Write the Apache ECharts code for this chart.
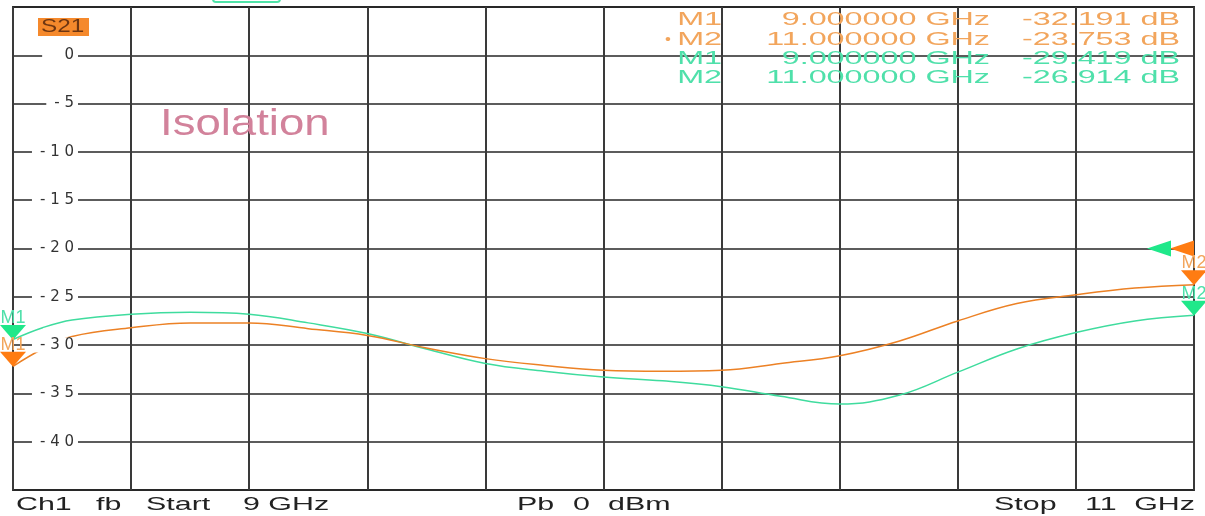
<!DOCTYPE html>
<html><head><meta charset="utf-8">
<script src="https://cdn.jsdelivr.net/npm/echarts@6/dist/echarts.min.js"></script>
<style>html,body{margin:0;padding:0;background:#fff}#c{width:1205px;height:516px}</style>
</head><body><div id="c"></div>
<script>
// Frequencies in GHz
const freqs = [9.0, 9.05, 9.1, 9.2, 9.3, 9.4, 9.5, 9.6, 9.7, 9.8, 9.9, 10.0, 10.1, 10.2, 10.3, 10.4, 10.5, 10.6, 10.7, 10.8, 10.9, 11.0];
// S21 trace 1 (orange), dB
const s21Orange = [-32.191, -30.4, -29.1, -28.2, -27.7, -27.7, -28.3, -29.0, -30.3, -31.4, -32.1, -32.6, -32.7, -32.6, -31.9, -31.1, -29.6, -27.5, -25.7, -24.8, -24.1, -23.753];
// S21 trace 2 (green), dB
const s21Green = [-29.419, -28.2, -27.4, -26.8, -26.6, -26.8, -27.7, -28.8, -30.4, -31.9, -32.7, -33.3, -33.7, -34.3, -35.3, -36.1, -35.2, -32.8, -30.4, -28.7, -27.5, -26.914];
const yTickLabels = ['0', '-5', '-10', '-15', '-20', '-25', '-30', '-35', '-40'];
const refLevel = -20;
const markerNames = ['M1', 'M2'];
const markerFreqText = ['9.000000 GHz', '11.000000 GHz'];

const ORANGE_LINE = '#ec8125', GREEN_LINE = '#3fdc9e';
const ORANGE_MK = '#ff7c12', GREEN_MK = '#1fe88a';
const ORANGE_TXT = '#f2a55c', GREEN_TXT = '#4fe0aa';
const FONT = "'Liberation Sans', Arial, sans-serif";

function spaced(s) { return s.split('').join(' '); }

const last = freqs.length - 1;
function markers(vals, mkColor, txtColor, refOffset) {
  return {
    symbol: 'triangle',
    symbolSize: [26, 15],
    symbolRotate: 180,
    symbolOffset: [0, -7],
    itemStyle: { color: mkColor },
    label: { show: true, position: 'top', distance: -2, formatter: '{b}', color: txtColor, fontSize: 18, fontFamily: FONT },
    data: [
      { name: markerNames[0], coord: [freqs[0], vals[0]] },
      { name: markerNames[1], coord: [freqs[last], vals[last]] },
      { name: 'ref', coord: [freqs[last], refLevel], symbolRotate: 90, symbolSize: [16, 24], symbolOffset: [refOffset, 0], label: { show: false } }
    ]
  };
}

function fmtVal(v) { return v.toFixed(3) + ' dB'; }

const rows = [
  { name: markerNames[0], f: markerFreqText[0], v: fmtVal(s21Orange[0]), c: ORANGE_TXT, y: 20, dot: false },
  { name: markerNames[1], f: markerFreqText[1], v: fmtVal(s21Orange[last]), c: ORANGE_TXT, y: 40, dot: true },
  { name: markerNames[0], f: markerFreqText[0], v: fmtVal(s21Green[0]), c: GREEN_TXT, y: 59, dot: false },
  { name: markerNames[1], f: markerFreqText[1], v: fmtVal(s21Green[last]), c: GREEN_TXT, y: 78, dot: false }
];

const graphics = [];
function txt(text, x, y, color, size, align, sx) {
  graphics.push({
    type: 'text', x: x, y: y, scaleX: sx, z: 50,
    style: { text: text, fill: color, font: size + 'px ' + FONT, textAlign: align || 'left', textVerticalAlign: 'middle' }
  });
}
rows.forEach(r => {
  txt(r.name, 722, r.y, r.c, 19, 'right', 1.7);
  txt(r.f, 990, r.y, r.c, 19, 'right', 1.7);
  txt(r.v, 1180, r.y, r.c, 19, 'right', 1.7);
  if (r.dot) txt('\u2022', 671, r.y, r.c, 14, 'right', 1.2);
});
// S21 badge
graphics.push({ type: 'rect', z: 49, shape: { x: 38, y: 18, width: 51, height: 18 }, style: { fill: '#f5892c' } });
txt('S21', 41, 27, '#6e3612', 18, 'left', 1.35);
// title
txt('Isolation', 160, 125, '#d2829b', 37, 'left', 1.23);
// bottom annotations
const BS = 1.6, BC = '#222';
txt('Ch1', 16, 505, BC, 19, 'left', BS);
txt('fb', 96, 505, BC, 19, 'left', BS);
txt('Start', 146, 505, BC, 19, 'left', BS);
txt('9 GHz', 243, 505, BC, 19, 'left', BS);
txt('Pb', 517, 505, BC, 19, 'left', BS);
txt('0', 573, 505, BC, 19, 'left', BS);
txt('dBm', 608, 505, BC, 19, 'left', BS);
txt('Stop', 994, 505, BC, 19, 'left', BS);
txt('11', 1085, 505, BC, 19, 'left', BS);
txt('GHz', 1195, 505, BC, 19, 'right', BS);
// top tab
graphics.push({ type: 'rect', z: 49, shape: { x: 213, y: -8, width: 67, height: 10, r: 3 }, style: { fill: 'none', stroke: '#4fe3a8', lineWidth: 2 } });

const chart = echarts.init(document.getElementById('c'), null, { renderer: 'canvas' });
chart.setOption({
  animation: false,
  backgroundColor: '#fff',
  grid: { left: 13, right: 11, top: 7, bottom: 26, show: true, borderColor: '#333', borderWidth: 2, backgroundColor: 'transparent' },
  xAxis: {
    type: 'value', min: 9, max: 11, interval: 0.2,
    axisLine: { show: false }, axisTick: { show: false }, axisLabel: { show: false },
    splitLine: { show: true, lineStyle: { color: '#3a3a3a', width: 2 } }
  },
  yAxis: [
    {
      type: 'value', min: -45, max: 5, interval: 5, z: 0,
      axisLine: { show: false }, axisTick: { show: false }, axisLabel: { show: false },
      splitLine: { show: true, lineStyle: { color: '#262626', width: 1.5 } }
    },
    {
      type: 'value', min: -45, max: 5, interval: 5, z: 5, position: 'left',
      axisLine: { show: false }, axisTick: { show: false }, splitLine: { show: false },
      axisLabel: {
        inside: true, align: 'right', margin: 65, color: '#333', fontSize: 15, fontFamily: "'DejaVu Sans', sans-serif",
        backgroundColor: '#fff', padding: [0, 4, 0, 8],
        formatter: function (v) {
          const s = String(v);
          if (yTickLabels.indexOf(s) < 0) return '';
          return s === '0' ? '   0' : spaced(s);
        }
      }
    }
  ],
  series: [
    {
      type: 'line', name: 'S21a', data: freqs.map((f, i) => [f, s21Orange[i]]), smooth: 0.4, showSymbol: false,
      lineStyle: { color: ORANGE_LINE, width: 1.5 }, z: 3,
      markPoint: markers(s21Orange, ORANGE_MK, ORANGE_TXT, -12)
    },
    {
      type: 'line', name: 'S21b', data: freqs.map((f, i) => [f, s21Green[i]]), smooth: 0.4, showSymbol: false,
      lineStyle: { color: GREEN_LINE, width: 1.5 }, z: 2,
      markPoint: markers(s21Green, GREEN_MK, GREEN_TXT, -35)
    }
  ],
  graphic: graphics
});
</script></body></html>
